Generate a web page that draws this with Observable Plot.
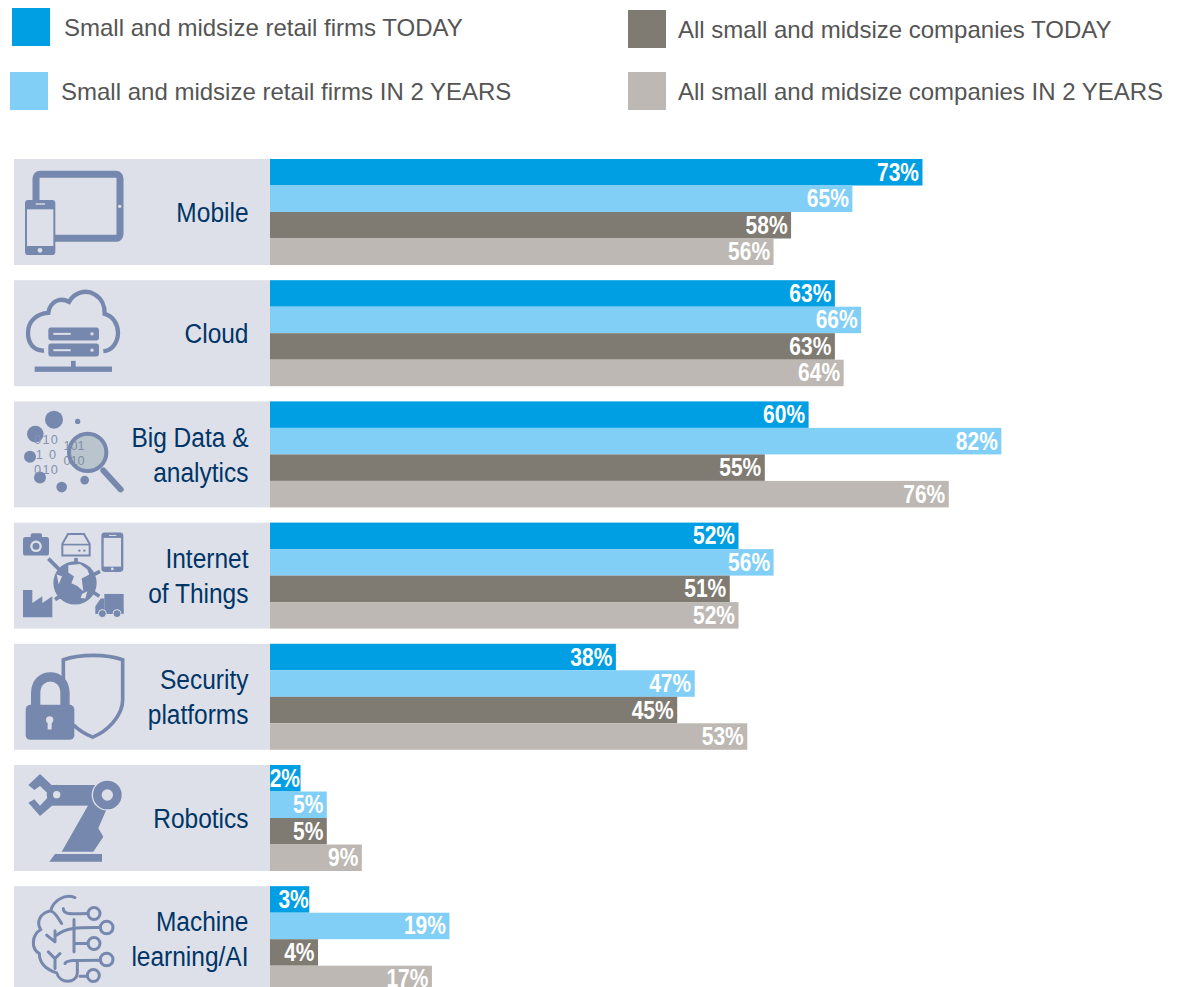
<!DOCTYPE html>
<html lang="en">
<head>
<meta charset="utf-8">
<title>Technology adoption among small and midsize firms</title>
<script src="https://cdn.jsdelivr.net/npm/d3@7"></script>
<script src="https://cdn.jsdelivr.net/npm/@observablehq/plot@0.6"></script>
<style>
  html, body { margin: 0; padding: 0; background: #fff; }
  #page { position: relative; width: 1184px; height: 987px; overflow: hidden; }
  #legend { position: relative; height: 150px; font-family: "Liberation Sans", Arial, sans-serif; font-size: 24px; color: #555; }
  .key { position: absolute; width: 38px; height: 38px; }
  .key-label { position: absolute; white-space: nowrap; line-height: 28px; }
  svg { display: block; }
</style>
</head>
<body>
<div id="page">
  <div id="legend"></div>
  <div id="chart"></div>
</div>
<script>
// Technologies, top to bottom
const categories = ["Mobile", "Cloud", "Big Data & analytics", "Internet of Things", "Security platforms", "Robotics", "Machine learning/AI"];
const categoryLabels = ["Mobile", "Cloud", "Big Data &\nanalytics", "Internet\nof Things", "Security\nplatforms", "Robotics", "Machine\nlearning/AI"];

// Respondent groups, in drawing order within each technology
const seriesNames = [
  "Small and midsize retail firms TODAY",
  "Small and midsize retail firms IN 2 YEARS",
  "All small and midsize companies TODAY",
  "All small and midsize companies IN 2 YEARS"
];
const seriesColors = ["#009fe3", "#81cff6", "#7f7b73", "#bdb8b3"];

// Percentages per technology, one list per group
const retailToday = [73, 63, 60, 52, 38, 2, 3];
const retailIn2Years = [65, 66, 82, 56, 47, 5, 19];
const allToday = [58, 63, 55, 51, 45, 5, 4];
const allIn2Years = [56, 64, 76, 52, 53, 9, 17];

const seriesValues = [retailToday, retailIn2Years, allToday, allIn2Years];
const rows = seriesNames.flatMap((series, s) =>
  categories.map((category, c) => ({category, series, value: seriesValues[s][c]}))
);

// Horizontal scale: pixels per percentage point, and where zero falls
const pxPerPoint = 8.76;
const zeroPx = 283;
const toValue = (px) => (px - zeroPx) / pxPerPoint;
const panelLeft = toValue(14);    // left edge of the grey header panels
const barBase = toValue(270);     // common start of the bars

const panelFill = "#dde0e8";
const iconFill = "#7788ae";
const labelFont = '"Liberation Sans", Arial, sans-serif';

// Legend above the plot
const legendPlacement = [
  {key: [12, 8], label: [64, 14]},
  {key: [10, 72], label: [61, 78]},
  {key: [628, 10], label: [678, 16]},
  {key: [628, 72], label: [678, 78]}
];
const legend = d3.select("#legend");
seriesNames.forEach((name, i) => {
  const {key, label} = legendPlacement[i];
  legend.append("div").attr("class", "key")
    .style("left", key[0] + "px").style("top", key[1] + "px")
    .style("background", seriesColors[i]);
  legend.append("div").attr("class", "key-label")
    .style("left", label[0] + "px").style("top", label[1] + "px")
    .text(name);
});

// Panel pictograms, each drawn on a 3x grid with its own origin
const icons = {
  "Mobile": {top: 27, markup: `
    <rect x="108" y="73" width="252" height="192" rx="12" fill="none" stroke="${iconFill}" stroke-width="21"/>
    <rect x="75" y="150" width="91" height="165" rx="10" fill="${iconFill}"/>
    <rect x="81" y="178" width="79" height="110" fill="${panelFill}"/>
    <rect x="107" y="160" width="28" height="4" fill="${panelFill}"/>
    <circle cx="120" cy="301" r="7" fill="${panelFill}"/>
    <circle cx="359" cy="169" r="5" fill="${panelFill}"/>`},
  "Cloud": {top: 387, markup: `
    <path d="M132,598C100,600 84,575 84,545C84,510 110,487 145,485C150,450 180,437 207,452C225,420 260,415 285,430C305,442 315,465 314,488C340,495 354,520 354,545C354,575 335,598 310,600" fill="none" stroke="${iconFill}" stroke-width="13"/>
    <rect x="145" y="529" width="152" height="39" rx="8" fill="${iconFill}"/>
    <rect x="145" y="577" width="152" height="39" rx="8" fill="${iconFill}"/>
    <rect x="160" y="545" width="52" height="6" fill="${panelFill}"/>
    <rect x="160" y="594" width="52" height="6" fill="${panelFill}"/>
    <circle cx="276" cy="548" r="5" fill="${panelFill}"/>
    <circle cx="276" cy="597" r="5" fill="${panelFill}"/>
    <rect x="213" y="629" width="14" height="20" fill="${iconFill}"/>
    <rect x="104" y="646" width="232" height="16" fill="${iconFill}"/>`},
  "Big Data & analytics": {top: 21, markup: `
    <g fill="${iconFill}">
      <circle cx="162" cy="76" r="27"/><circle cx="106" cy="119" r="25"/><circle cx="233" cy="81" r="8"/>
      <circle cx="90" cy="187" r="18"/><circle cx="120" cy="249" r="18"/><circle cx="185" cy="278" r="16"/><circle cx="254" cy="257" r="13"/>
    </g>
    <g font-family="Liberation Sans, sans-serif" font-size="38" letter-spacing="4" fill="#8492b4">
      <text x="140" y="150">010</text><text x="140" y="194">1 0</text><text x="140" y="238">010</text>
    </g>
    <circle cx="263" cy="174" r="56" fill="#b9c4cc"/>
    <g font-family="Liberation Sans, sans-serif" font-size="38" fill="#7f8fa8">
      <text x="222" y="166">101</text><text x="222" y="212">010</text>
    </g>
    <circle cx="263" cy="174" r="56" fill="none" stroke="${iconFill}" stroke-width="12"/>
    <line x1="310" y1="228" x2="362" y2="285" stroke="${iconFill}" stroke-width="18" stroke-linecap="round"/>`},
  "Internet of Things": {top: 384, markup: `
    <rect x="69" y="427" width="78" height="56" rx="8" fill="${iconFill}"/>
    <rect x="92" y="416" width="34" height="20" rx="5" fill="${iconFill}"/>
    <circle cx="108" cy="455" r="14" fill="none" stroke="${panelFill}" stroke-width="7"/>
    <path d="M187,483V448L204,418H252L269,448V483Z" fill="none" stroke="${iconFill}" stroke-width="6"/>
    <line x1="187" y1="450" x2="269" y2="450" stroke="${iconFill}" stroke-width="5"/>
    <circle cx="238" cy="468" r="3.5" fill="${iconFill}"/><circle cx="253" cy="468" r="3.5" fill="${iconFill}"/>
    <rect x="304" y="414" width="66" height="118" rx="10" fill="${iconFill}"/>
    <rect x="311" y="430" width="52" height="86" fill="${panelFill}"/>
    <rect x="327" y="421" width="22" height="3" fill="${panelFill}"/>
    <circle cx="337" cy="523" r="4" fill="${panelFill}"/>
    <circle cx="225" cy="565" r="65" fill="${iconFill}"/>
    <path d="M205,512L240,508L262,525L268,540L245,552L250,590L232,574L214,566L222,546L205,534Z M246,598L262,590L256,612L242,610Z M170,540L186,545L176,570Z" fill="${panelFill}"/>
    <g stroke="${iconFill}" stroke-width="11">
      <line x1="145" y1="492" x2="178" y2="525"/><line x1="228" y1="490" x2="228" y2="505"/>
      <line x1="300" y1="530" x2="275" y2="543"/><line x1="298" y1="605" x2="275" y2="590"/>
      <line x1="165" y1="615" x2="183" y2="603"/>
    </g>
    <path d="M69,668V586H97V625L127,605V625L157,605V668Z" fill="${iconFill}"/>
    <rect x="313" y="598" width="58" height="52" fill="${iconFill}"/>
    <path d="M313,612H302L286,635V658H371V645H313Z" fill="${iconFill}"/>
    <circle cx="307" cy="657" r="12" fill="${iconFill}" stroke="${panelFill}" stroke-width="3"/>
    <circle cx="351" cy="657" r="12" fill="${iconFill}" stroke="${panelFill}" stroke-width="3"/>`},
  "Security platforms": {top: 12, markup: `
    <path d="M190,135V60C240,42 320,42 368,60V180C368,230 320,275 278,292C255,283 235,270 220,255" fill="none" stroke="${iconFill}" stroke-width="11"/>
    <path d="M107,205V160C107,95 195,95 195,160V205" fill="none" stroke="${iconFill}" stroke-width="28"/>
    <rect x="77" y="195" width="146" height="105" rx="14" fill="${iconFill}"/>
    <circle cx="149" cy="240" r="11" fill="${panelFill}"/>
    <rect x="143" y="242" width="12" height="27" fill="${panelFill}"/>`},
  "Robotics": {top: 375, markup: `
    <g fill="${iconFill}">
      <path d="M148,665L165,642H306V665Z"/>
      <path d="M185,635L265,495H325L295,565L310,590L280,635Z"/>
      <rect x="155" y="435" width="130" height="62"/>
      <circle cx="170" cy="464" r="30"/>
      <path d="M85,435L120,402L165,445L145,462L120,438L103,450Z"/>
      <path d="M85,488L103,478L120,497L145,470L165,490L120,528Z"/>
      <circle cx="322" cy="465" r="45" stroke="${panelFill}" stroke-width="4"/>
    </g>
    <circle cx="322" cy="465" r="17" fill="${panelFill}"/>
    <circle cx="170" cy="464" r="11" fill="${panelFill}"/>`},
  "Machine learning/AI": {top: 738, markup: `
    <g fill="none" stroke="${iconFill}" stroke-width="9" stroke-linecap="round">
      <path d="M225,772C195,760 160,780 152,812C120,818 108,845 122,868C95,885 92,925 118,940C118,975 145,990 170,998C180,1032 228,1030 232,1000V960"/>
      <path d="M190,805C190,825 215,820 264,820"/><circle cx="282" cy="820" r="18"/>
      <path d="M152,812C165,815 175,835 185,850"/>
      <path d="M170,885C200,860 240,862 301,862"/><circle cx="320" cy="862" r="19"/>
      <path d="M140,885L165,905M165,905L165,872"/>
      <path d="M222,838V935M222,910H264"/><circle cx="282" cy="910" r="18"/>
      <path d="M145,935L165,955L180,940M165,955V985"/>
      <path d="M195,970C200,960 220,960 301,960"/><circle cx="320" cy="958" r="19"/>
      <path d="M240,1008H262"/><circle cx="280" cy="1006" r="18"/>
    </g>`}
};

// Draws one pictogram inside each facet's panel
function panelIcon(index, scales, values, dimensions, context, next) {
  const g = next(index, scales, values, dimensions, context);
  const icon = icons[categories[index[0]]];
  d3.select(g).append("g")
    .attr("transform", `translate(${scales.x(panelLeft)},${dimensions.marginTop}) scale(${1 / 3}) translate(-42,${-icon.top})`)
    .html(icon.markup);
  return g;
}

// Squeezes each label horizontally about its anchor, giving the sans a condensed cut
const condense = (narrowing) => (index, scales, values, dimensions, context, next) => {
  const g = next(index, scales, values, dimensions, context);
  d3.select(g).selectAll("text").attr("transform", function () {
    return `${this.getAttribute("transform") || ""} scale(${narrowing},1)`;
  });
  return g;
};

const valueLabel = {
  fy: "category",
  y: "series",
  x: "value",
  text: (d) => `${d.value}%`,
  textAnchor: "end",
  fontFamily: labelFont,
  fontWeight: "bold",
  fontSize: 25,
  fill: "#fff",
  render: condense(0.84)
};

const plot = Plot.plot({
  width: 1184,
  height: 837,
  marginTop: 9,
  marginBottom: -5.2,
  marginLeft: 0,
  marginRight: 0,
  x: {domain: [panelLeft, toValue(1184)], range: [14, 1184], axis: null},
  y: {domain: seriesNames, paddingInner: 0, paddingOuter: 0, round: false, axis: null},
  fy: {domain: categories, paddingInner: 15.2 / 121.2, paddingOuter: 0, round: false, axis: null},
  color: {domain: seriesNames, range: seriesColors},
  marks: [
    // Header panel with its pictogram
    Plot.barX(categories, {
      fy: (d) => d,
      x1: () => panelLeft,
      x2: () => barBase,
      fill: panelFill,
      render: panelIcon
    }),
    // Technology name, right-aligned against the bars
    Plot.text(categories, {
      fy: (d) => d,
      x: () => barBase,
      dx: -22,
      dy: -2,
      frameAnchor: "middle",
      text: (d) => categoryLabels[categories.indexOf(d)],
      textAnchor: "end",
      fontFamily: labelFont,
      fontSize: 28,
      lineHeight: 35 / 28,
      fill: "#003567",
      render: condense(0.875)
    }),
    // One bar per group
    Plot.barX(rows, {
      fy: "category",
      y: "series",
      x1: () => barBase,
      x2: "value",
      fill: "series"
    }),
    // Value at the end of each bar; the shortest bars leave less room inside
    Plot.text(rows, {...valueLabel, filter: (d) => d.value >= 4, dx: -4}),
    Plot.text(rows, {...valueLabel, filter: (d) => d.value < 4, dx: -1})
  ]
});
document.getElementById("chart").append(plot);
</script>
</body>
</html>
